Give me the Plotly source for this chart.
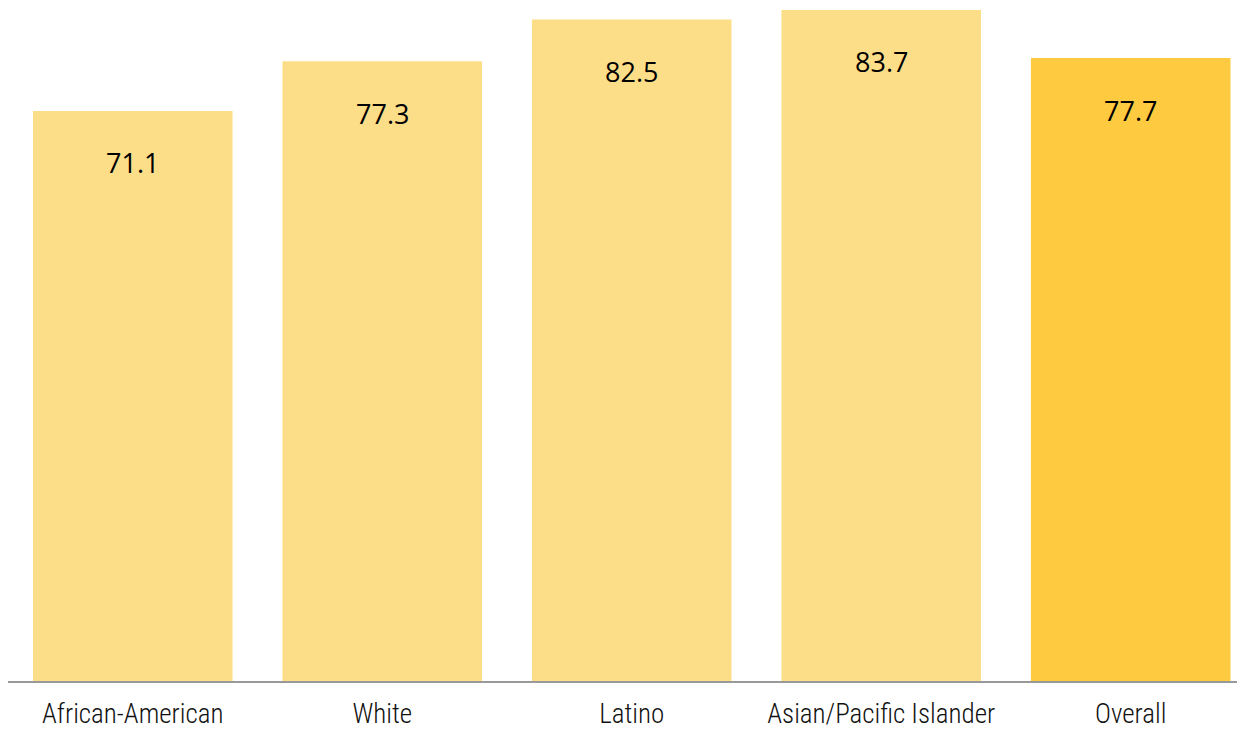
import plotly.graph_objects as go

categories = ["African-American", "White", "Latino", "Asian/Pacific Islander", "Overall"]
values = [71.1, 77.3, 82.5, 83.7, 77.7]
value_labels = ["71.1", "77.3", "82.5", "83.7", "77.7"]
bar_colors = ["#FDDE88", "#FDDE88", "#FDDE88", "#FDDE88", "#FECA40"]

fig = go.Figure()
fig.add_trace(go.Bar(
    x=categories, y=values,
    marker=dict(color=bar_colors, line=dict(width=0)),
    hoverinfo="skip",
))

for c, v, t in zip(categories, values, value_labels):
    fig.add_annotation(x=c, y=v, text=t, showarrow=False, yanchor="middle",
                       yshift=-52, font=dict(family="Open Sans", size=27, color="#000000"))

fig.update_layout(
    width=1237, height=729,
    margin=dict(l=8, r=0, t=0, b=48, pad=0),
    paper_bgcolor="white", plot_bgcolor="white",
    bargap=0.2, showlegend=False,
    xaxis=dict(range=[-0.5, 4.426], showgrid=False, showline=True, linecolor="#999999",
               linewidth=2, ticks="", ticklabelstandoff=8,
               tickfont=dict(family="Roboto Condensed, DejaVu Sans Condensed, Liberation Sans Narrow, sans-serif",
                             size=27, weight=300, color="#111111"),
               fixedrange=True),
    yaxis=dict(range=[0, 84.94], visible=False, fixedrange=True),
)

fig.write_html("out.html",
               config={"displayModeBar": False},
               post_script="document.body.style.margin='0';document.body.style.overflow='hidden';")
